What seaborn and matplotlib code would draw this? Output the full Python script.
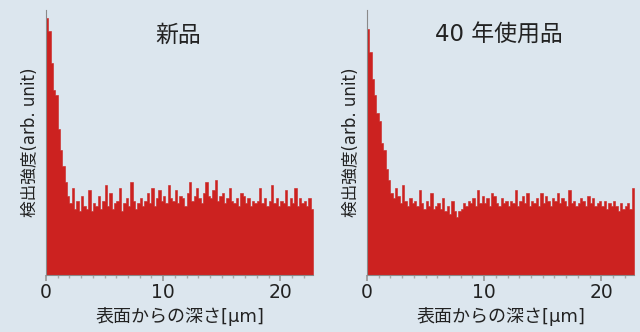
import numpy as np
import pandas as pd
import matplotlib
matplotlib.use("Agg")
import matplotlib.pyplot as plt
import seaborn as sns
from matplotlib.ticker import MultipleLocator

# depth bins (um), 0.2 um wide
bin_width = 0.2
depth_max = 22.8

# detected intensity (arb. unit), one value per bin
new_vals = [97, 92, 80, 70, 68, 55, 47, 41, 35, 30,
            27, 33, 25, 28, 24, 30, 26, 25, 32, 24,
            27, 26, 30, 25, 28, 34, 26, 31, 25, 27,
            28, 33, 24, 27, 29, 26, 35, 28, 25, 27,
            29, 26, 28, 31, 27, 33, 26, 29, 32, 28,
            30, 27, 34, 29, 28, 32, 27, 30, 29, 26,
            31, 35, 28, 30, 33, 29, 27, 31, 35, 30,
            29, 32, 36, 28, 30, 31, 27, 29, 33, 28,
            27, 29, 26, 31, 30, 27, 29, 26, 28, 27,
            28, 33, 27, 29, 26, 28, 34, 27, 29, 26,
            28, 27, 32, 26, 29, 27, 33, 26, 29, 27,
            28, 26, 29, 25]

used_vals = [93, 84, 74, 68, 61, 58, 50, 47, 40, 36,
             31, 29, 33, 30, 27, 34, 28, 26, 29, 27,
             28, 26, 32, 27, 25, 28, 26, 31, 25, 26,
             27, 25, 29, 24, 26, 23, 28, 24, 22, 24,
             25, 27, 26, 28, 27, 29, 26, 32, 27, 30,
             27, 29, 26, 31, 30, 27, 26, 29, 27, 28,
             26, 28, 27, 32, 26, 28, 30, 27, 31, 26,
             28, 27, 29, 26, 31, 27, 30, 28, 26, 29,
             28, 31, 27, 29, 28, 26, 32, 27, 28, 26,
             27, 29, 28, 26, 30, 27, 29, 26, 27, 28,
             26, 28, 25, 27, 26, 28, 26, 24, 27, 25,
             26, 27, 25, 33]

panel_titles = ["新品", "40 年使用品"]
x_ticks = [0, 10, 20]
x_label = "表面からの深さ[μm]"
y_label = "検出強度(arb. unit)"

bg = "#dce6ee"
red = "#cc2220"
text_col = "#222222"

sns.set_theme(style="white")
plt.rcParams["font.family"] = ["DejaVu Sans", "Noto Sans CJK JP"]

fig = plt.figure(figsize=(6.4, 3.32), dpi=100, facecolor=bg)
centers = np.arange(len(new_vals)) * bin_width + bin_width / 2

positions = [[46 / 640, 57 / 332, 267 / 640, 265 / 332],
             [367 / 640, 57 / 332, 267 / 640, 265 / 332]]

for pos, vals, title in zip(positions, [new_vals, used_vals], panel_titles):
    ax = fig.add_axes(pos)
    ax.set_facecolor(bg)
    df = pd.DataFrame({"depth": centers, "signal": vals})
    # step element -> one filled polygon, no seams between bins
    sns.histplot(data=df, x="depth", weights="signal", bins=len(vals),
                 binrange=(0, depth_max), element="step", fill=True,
                 color=red, alpha=1, edgecolor=red, linewidth=0.4, ax=ax)
    ax.set_xlim(0, depth_max)
    ax.set_ylim(0, 100)
    ax.set_yticks([])
    ax.set_xticks(x_ticks)
    ax.xaxis.set_minor_locator(MultipleLocator(1))
    ax.tick_params(axis="x", which="major", length=4, color="#999999",
                   labelsize=13.5, labelcolor=text_col, pad=2, direction="out",
                   bottom=True)
    ax.tick_params(axis="x", which="minor", length=2.5, color="#aaaaaa",
                   bottom=True)
    for s in ["top", "right"]:
        ax.spines[s].set_visible(False)
    for s in ["left", "bottom"]:
        ax.spines[s].set_color("#8a8a8a")
        ax.spines[s].set_linewidth(0.8)
    ax.set_xlabel(x_label, fontsize=13, color=text_col, labelpad=3)
    ax.set_ylabel(y_label, fontsize=12, color=text_col, labelpad=5)
    ax.text(0.495, 0.905, title, transform=ax.transAxes, ha="center",
            va="center", fontsize=16.5, color=text_col)

fig.savefig("out.png", dpi=100, facecolor=bg)
